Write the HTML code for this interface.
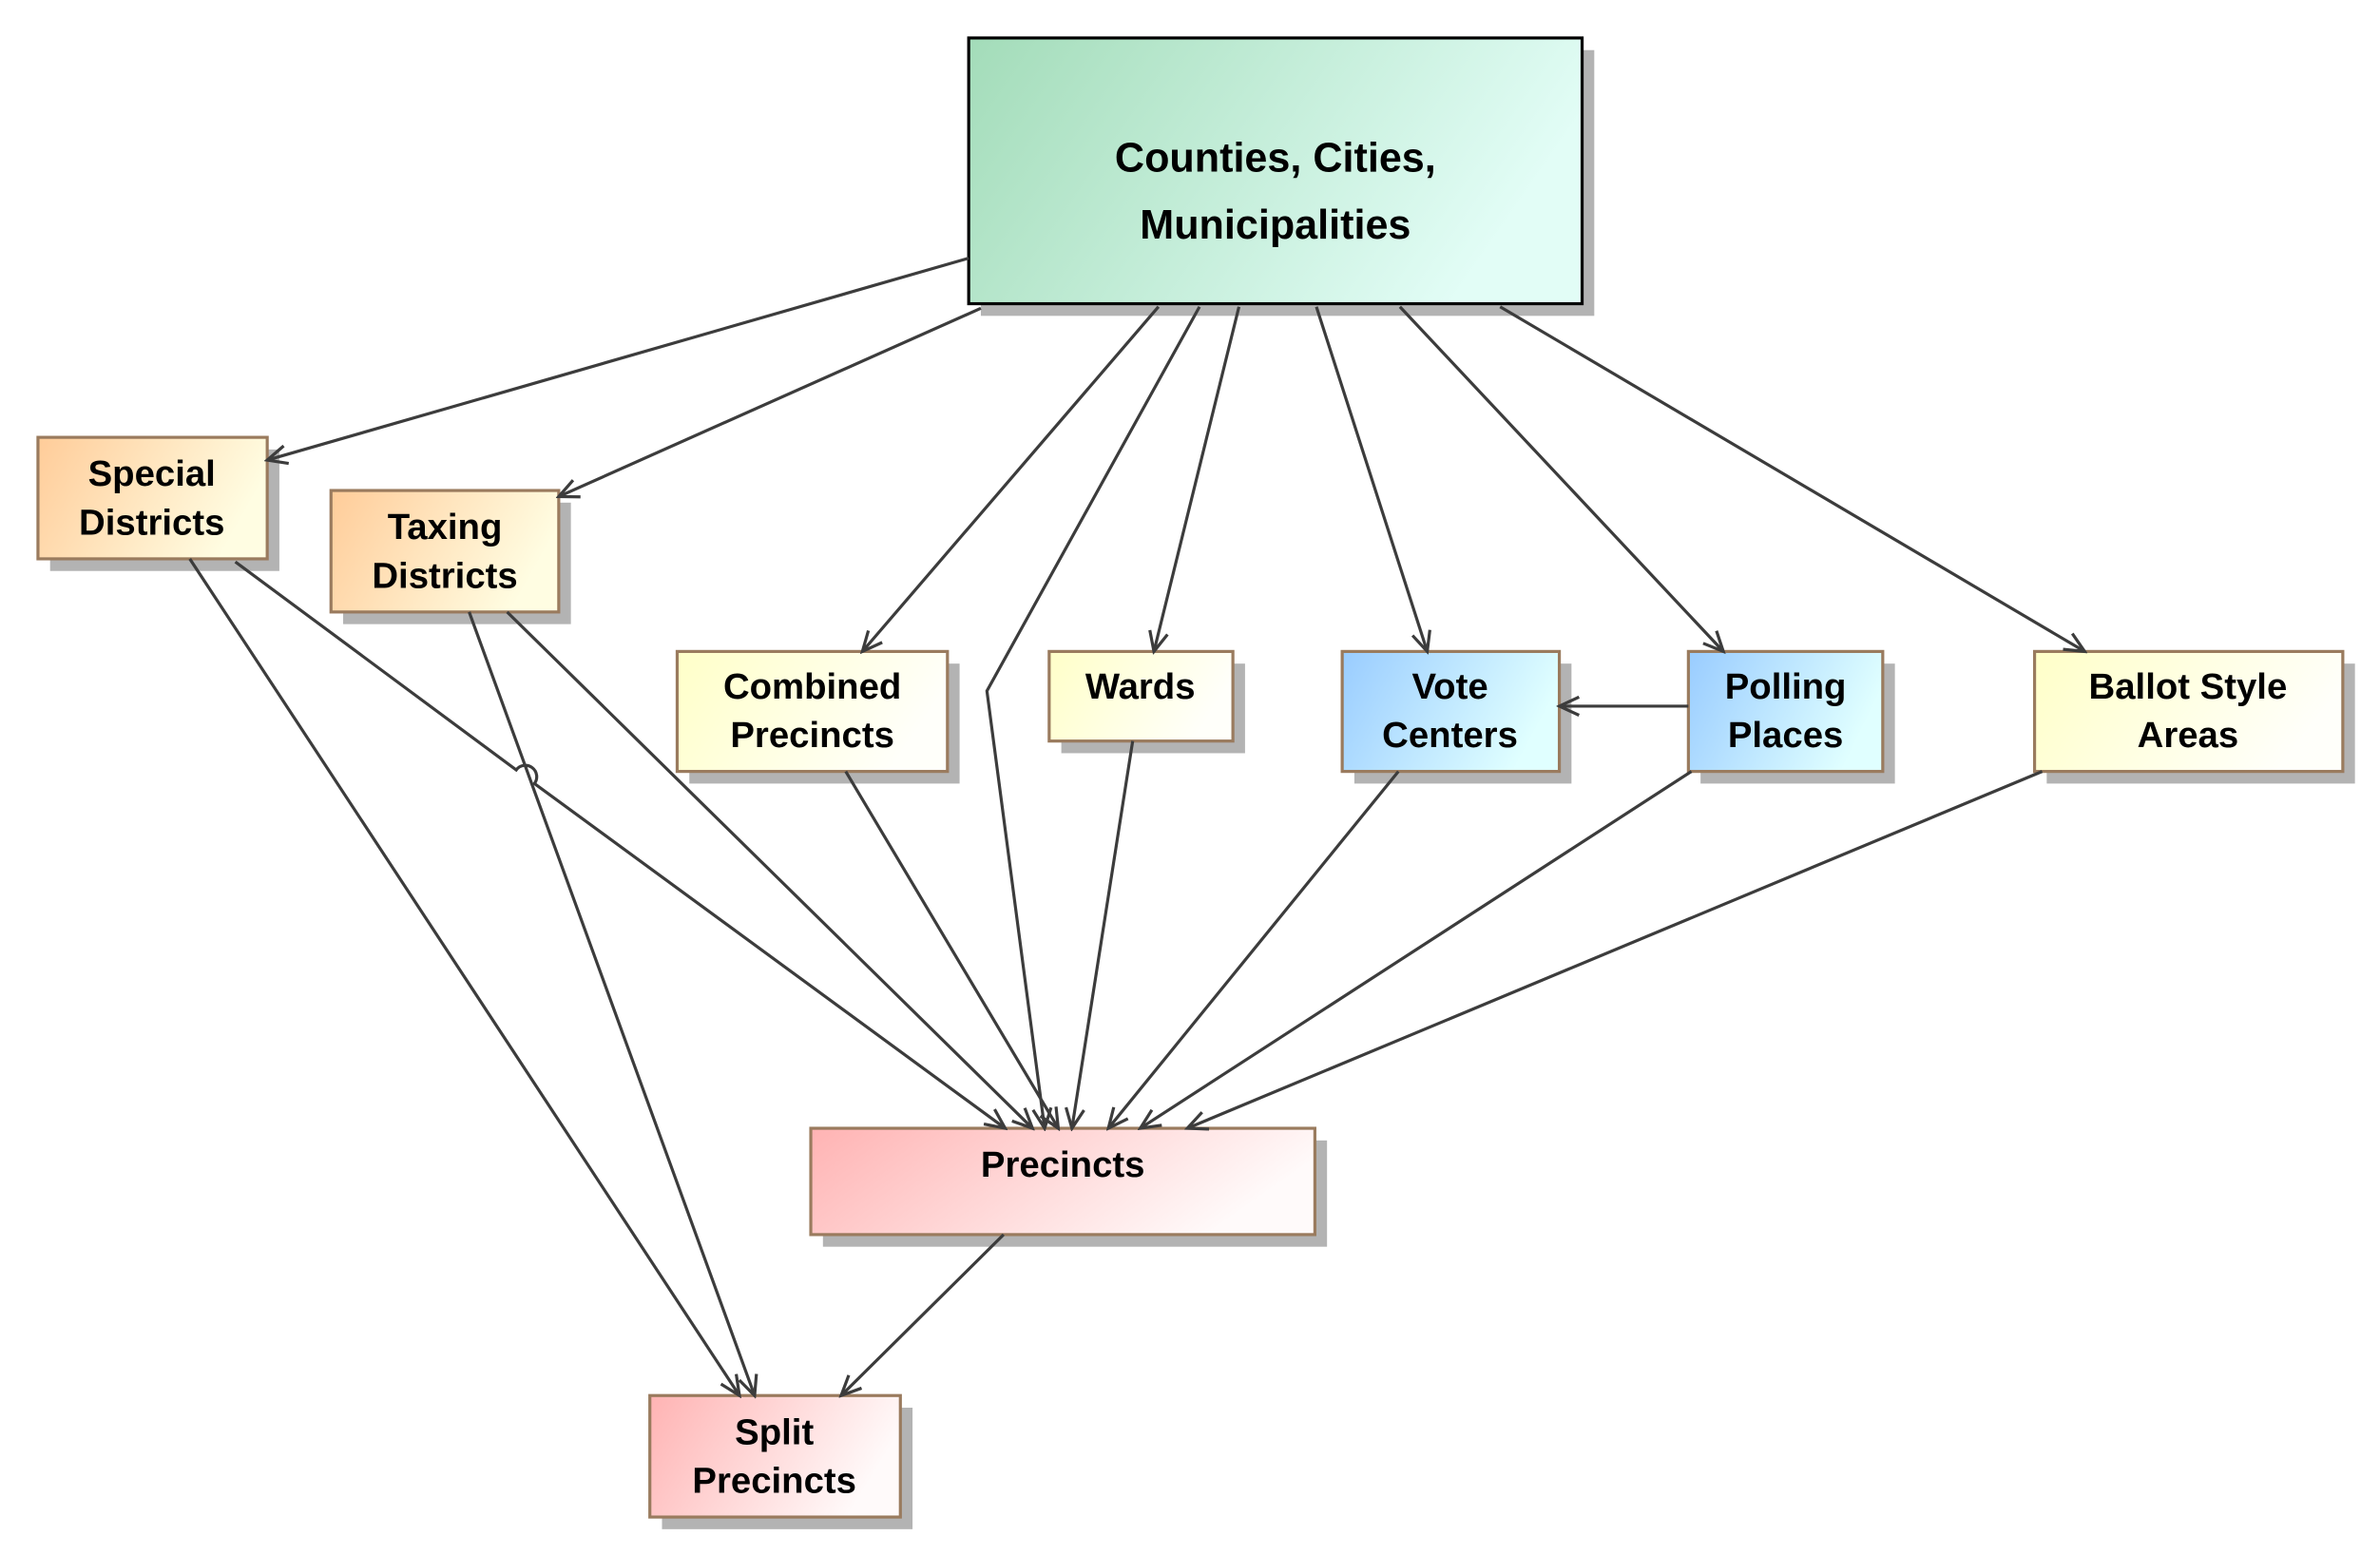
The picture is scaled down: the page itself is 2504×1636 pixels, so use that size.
<!DOCTYPE html>
<html><head><meta charset="utf-8"><style>
html,body{margin:0;padding:0;background:#fff;}
svg{display:block;}
text{font-family:"Liberation Sans",Arial,sans-serif;font-weight:bold;fill:#000;text-anchor:middle;}
</style></head><body>
<svg width="2504" height="1636" viewBox="0 0 1567.5 1024" preserveAspectRatio="none" xmlns="http://www.w3.org/2000/svg">
<defs>
<linearGradient id="gG" x1="0" y1="0" x2="1" y2="0.3"><stop offset="0" stop-color="#a3dcb9"/><stop offset="1" stop-color="#e2fdf6"/></linearGradient>
<linearGradient id="gO" x1="0" y1="0" x2="1" y2="0.3"><stop offset="0" stop-color="#ffcc99"/><stop offset="1" stop-color="#fffde2"/></linearGradient>
<linearGradient id="gY" x1="0" y1="0" x2="1" y2="0.3"><stop offset="0" stop-color="#ffffc8"/><stop offset="1" stop-color="#fffffa"/></linearGradient>
<linearGradient id="gB" x1="0" y1="0" x2="1" y2="0.3"><stop offset="0" stop-color="#99ccff"/><stop offset="1" stop-color="#e0ffff"/></linearGradient>
<linearGradient id="gP" x1="0" y1="0" x2="1" y2="0.3"><stop offset="0" stop-color="#ffb3b3"/><stop offset="1" stop-color="#fffafa"/></linearGradient>
<marker id="a" viewBox="-14 -8 16 16" refX="0" refY="0" markerWidth="16" markerHeight="16" markerUnits="userSpaceOnUse" orient="auto">
<path d="M-13,-6 L0,0 L-13,6" fill="none" stroke="#3c3c3c" stroke-width="2"/></marker>
</defs>
<g fill="#b3b3b3">
<rect x="646" y="33" width="404" height="175"/>
<rect x="33" y="296" width="151" height="80"/>
<rect x="226" y="331" width="150" height="80"/>
<rect x="454" y="437" width="178" height="79"/>
<rect x="699" y="437" width="121" height="59"/>
<rect x="892" y="437" width="143" height="79"/>
<rect x="1120" y="437" width="128" height="79"/>
<rect x="1348" y="437" width="203" height="79"/>
<rect x="542" y="751" width="332" height="70"/>
<rect x="436" y="927" width="165" height="80"/>
</g>
<rect x="638" y="25" width="404" height="175" fill="url(#gG)" stroke="#000" stroke-width="2"/>
<g stroke="#9a7b5e" stroke-width="2">
<rect x="25" y="288" width="151" height="80" fill="url(#gO)"/>
<rect x="218" y="323" width="150" height="80" fill="url(#gO)"/>
<rect x="446" y="429" width="178" height="79" fill="url(#gY)"/>
<rect x="691" y="429" width="121" height="59" fill="url(#gY)"/>
<rect x="884" y="429" width="143" height="79" fill="url(#gB)"/>
<rect x="1112" y="429" width="128" height="79" fill="url(#gB)"/>
<rect x="1340" y="429" width="203" height="79" fill="url(#gY)"/>
<rect x="534" y="743" width="332" height="70" fill="url(#gP)"/>
<rect x="428" y="919" width="165" height="80" fill="url(#gP)"/>
</g>
<g font-size="27"><text x="840" y="113">Counties, Cities,</text><text x="840" y="157">Municipalities</text></g>
<g font-size="24">
<text x="100" y="320">Special</text><text x="100" y="352">Districts</text>
<text x="293" y="355">Taxing</text><text x="293" y="387">Districts</text>
<text x="535" y="460">Combined</text><text x="535" y="492">Precincts</text>
<text x="751" y="460">Wards</text>
<text x="955" y="460">Vote</text><text x="955" y="492">Centers</text>
<text x="1176" y="460">Polling</text><text x="1176" y="492">Places</text>
<text x="1441" y="460">Ballot Style</text><text x="1441" y="492">Areas</text>
<text x="700" y="775">Precincts</text>
<text x="510" y="951">Split</text><text x="510" y="983">Precincts</text>
</g>
<g fill="none" stroke="#3c3c3c" stroke-width="2" marker-end="url(#a)">
<path d="M638,170 L176,303"/>
<path d="M646,203 L368,327"/>
<path d="M763,202 L568,429"/>
<path d="M790,202 L650,455 L688,743"/>
<path d="M816,202 L760,429"/>
<path d="M867,202 L940,429"/>
<path d="M922,202 L1135,429"/>
<path d="M988,202 L1373,429"/>
<path d="M1112,465 L1027,465"/>
<path d="M155,370 L340,507 A7,7 0 0 1 352,516 L662,743"/>
<path d="M125,368 L487,919"/>
<path d="M334,403 L680,743"/>
<path d="M309,403 L497,919"/>
<path d="M557,508 L697,743"/>
<path d="M746,488 L706,743"/>
<path d="M921,508 L730,743"/>
<path d="M1114,508 L751,743"/>
<path d="M1345,508 L782,743"/>
<path d="M661,813 L554,919"/>
</g>
</svg>
</body></html>
